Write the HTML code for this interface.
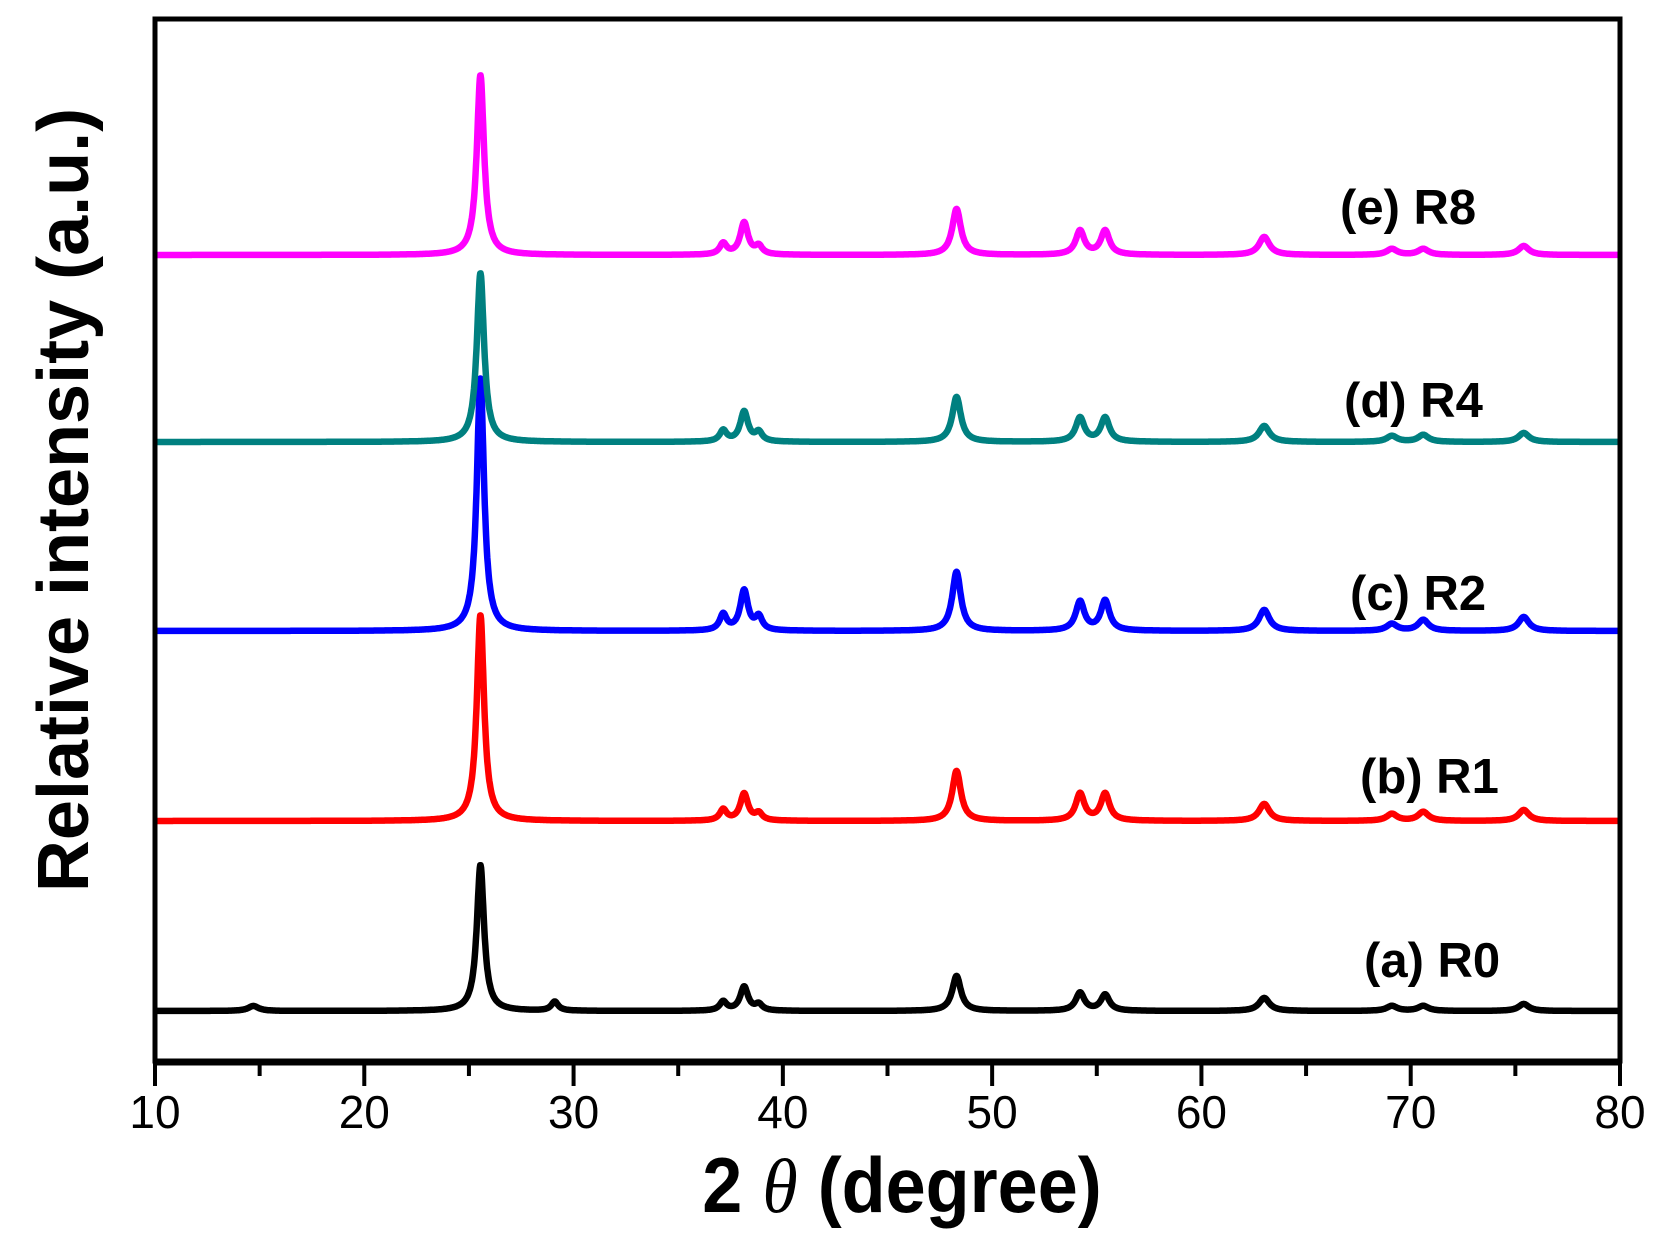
<!DOCTYPE html>
<html><head><meta charset="utf-8"><style>
html,body{margin:0;padding:0;background:#fff;}
svg{display:block;}
text{font-family:"Liberation Sans",Arial,sans-serif;}
</style></head><body>
<svg id="chart" width="1670" height="1239" viewBox="0 0 1670 1239" xmlns="http://www.w3.org/2000/svg">
<g id="series"></g>
<rect x="155" y="19" width="1465" height="1042" fill="none" stroke="#000" stroke-width="5"/>
<g id="xaxis"></g>
<text x="902" y="1212" text-anchor="middle" font-size="72" font-weight="bold" transform="translate(902,0) scale(1,1.08) translate(-902,-90)">2 <tspan font-family="Liberation Serif,serif" font-style="italic" font-weight="normal">θ</tspan>   (degree)</text>
<text transform="translate(88,500) rotate(-90)" text-anchor="middle" font-size="72" font-weight="bold">Relative intensity (a.u.)</text>
</svg>
<script>
const xTicks = [10,20,30,40,50,60,70,80];
const minorTicks = [15,25,35,45,55,65,75];
const seriesNames = ["(a) R0","(b) R1","(c) R2","(d) R4","(e) R8"];
const seriesColors = ["#000000","#ff0000","#0000ff","#008080","#ff00ff"];
const baselines = [1011,821,631,442,255];
const peakPositions = [14.7,25.55,29.1,37.15,38.15,38.85,48.3,54.2,55.4,63.0,69.1,70.6,75.4];
const peakWidths = [0.6,0.42,0.4,0.4,0.45,0.4,0.5,0.5,0.5,0.6,0.6,0.6,0.6];
const heightsR0 = [5,146,9,9,24,6,35,18,16,13,5,5,7];
const heightsR1 = [0,206,0,11,27,7,50,27,27,17,7,9,11];
const heightsR2 = [0,253,0,16,40,13,59,29,30,21,7,11,14];
const heightsR4 = [0,169,0,11,30,9,45,24,24,16,6,7,9];
const heightsR8 = [0,180,0,11,32,8,46,24,24,18,6,6,9];
const allHeights = [heightsR0,heightsR1,heightsR2,heightsR4,heightsR8];
const labelX = [1364,1360,1350,1344,1340];
const labelY = [977,793,610,417,224];

const NS="http://www.w3.org/2000/svg";
const X0=155,X1=1620,D0=10,D1=80;
function xs(v){return X0+(v-D0)/(D1-D0)*(X1-X0);}
function ys(i,v){return baselines[i]-v;}
function intensity(h,t){let s=0;for(let k=0;k<peakPositions.length;k++){const w=peakWidths[k]/2;const d=(t-peakPositions[k])/w;s+=h[k]/(1+d*d);}return s;}

const sg=document.getElementById('series');
for(let i=0;i<seriesNames.length;i++){
  let d="";
  for(let t=10;t<=80.0001;t+=0.02){
    const x=xs(t),y=ys(i,intensity(allHeights[i],t));
    d+=(d?"L":"M")+x.toFixed(1)+","+y.toFixed(1);
  }
  const p=document.createElementNS(NS,'path');
  p.setAttribute('d',d);p.setAttribute('fill','none');
  p.setAttribute('stroke',seriesColors[i]);p.setAttribute('stroke-width','6.5');
  p.setAttribute('stroke-linejoin','round');
  
  
  sg.appendChild(p);
  const tx=document.createElementNS(NS,'text');
  tx.setAttribute('x',labelX[i]);tx.setAttribute('y',labelY[i]);
  tx.setAttribute('font-size','49');tx.setAttribute('font-weight','bold');
  tx.textContent=seriesNames[i];
  
  
  sg.appendChild(tx);
}
const xa=document.getElementById('xaxis');
const base=document.createElementNS(NS,'line');
base.setAttribute('x1',X0-2);base.setAttribute('x2',X1+2);base.setAttribute('y1',1062);base.setAttribute('y2',1062);
base.setAttribute('stroke','#000');base.setAttribute('stroke-width','7');


xa.appendChild(base);
for(const v of xTicks){
  const l=document.createElementNS(NS,'line');
  l.setAttribute('x1',xs(v));l.setAttribute('x2',xs(v));l.setAttribute('y1',1060);l.setAttribute('y2',1086);
  l.setAttribute('stroke','#000');l.setAttribute('stroke-width','4');
  
  
  xa.appendChild(l);
  const t=document.createElementNS(NS,'text');
  t.setAttribute('x',xs(v));t.setAttribute('y',1128);t.setAttribute('text-anchor','middle');t.setAttribute('font-size','46');
  t.textContent=v;
  
  
  xa.appendChild(t);
}
for(const v of minorTicks){
  const l=document.createElementNS(NS,'line');
  l.setAttribute('x1',xs(v));l.setAttribute('x2',xs(v));l.setAttribute('y1',1060);l.setAttribute('y2',1076);
  l.setAttribute('stroke','#000');l.setAttribute('stroke-width','4');
  
  
  xa.appendChild(l);
}
</script>
</body></html>
